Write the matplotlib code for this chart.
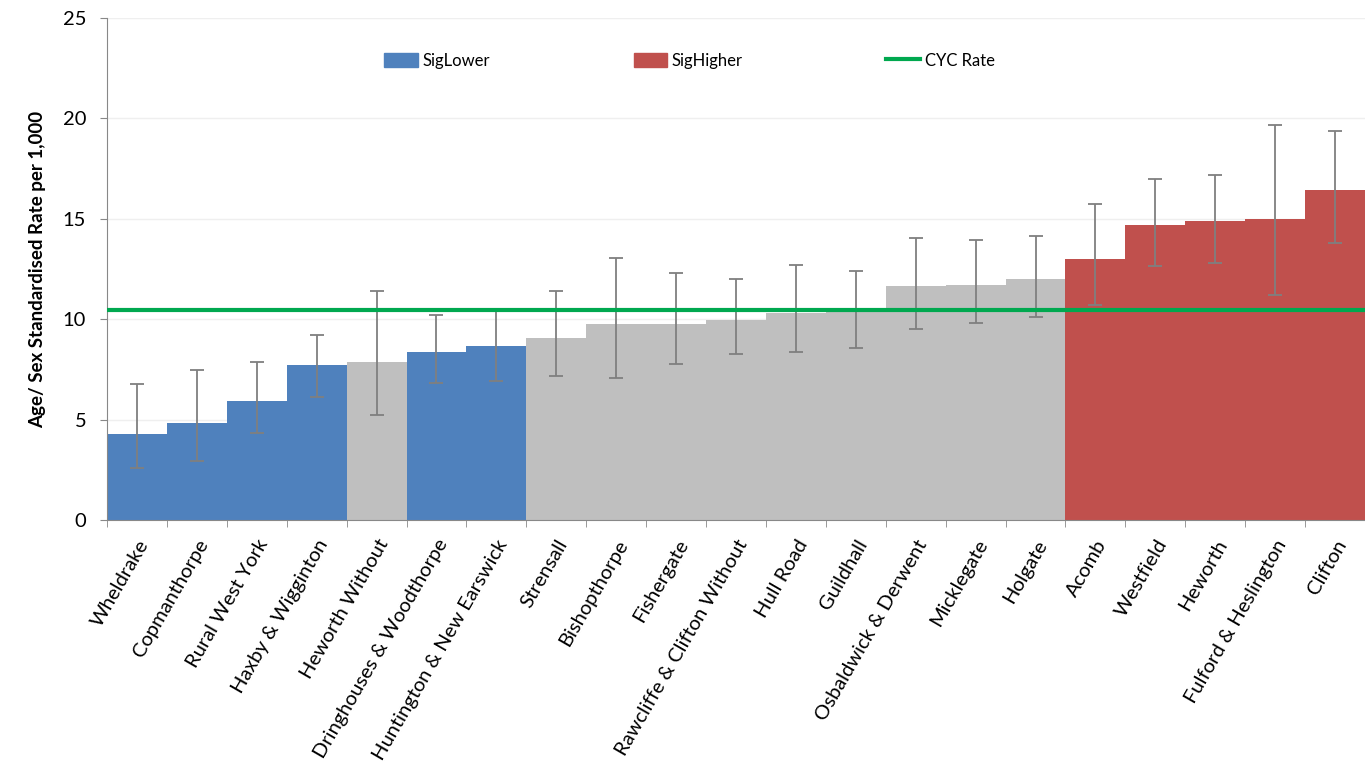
import numpy as np
import matplotlib.pyplot as plt
from matplotlib.patches import Patch
from matplotlib.lines import Line2D

plt.rcParams['font.family'] = ['Lato', 'DejaVu Sans']

wards = ['Wheldrake', 'Copmanthorpe', 'Rural West York', 'Haxby & Wigginton',
         'Heworth Without', 'Dringhouses & Woodthorpe', 'Huntington & New Earswick',
         'Strensall', 'Bishopthorpe', 'Fishergate', 'Rawcliffe & Clifton Without',
         'Hull Road', 'Guildhall', 'Osbaldwick & Derwent', 'Micklegate', 'Holgate',
         'Acomb', 'Westfield', 'Heworth', 'Fulford & Heslington', 'Clifton']
rate = [4.27, 4.85, 5.94, 7.70, 7.88, 8.38, 8.67, 9.08, 9.76, 9.78, 9.96,
        10.33, 10.35, 11.64, 11.72, 12.02, 13.01, 14.67, 14.87, 14.99, 16.45]
ci_low = [2.60, 2.95, 4.35, 6.14, 5.21, 6.84, 6.94, 7.17, 7.07, 7.75, 8.25,
          8.35, 8.55, 9.53, 9.81, 10.11, 10.71, 12.67, 12.78, 11.20, 13.81]
ci_high = [6.77, 7.47, 7.85, 9.23, 11.39, 10.21, 10.45, 11.40, 13.06, 12.29, 11.99,
           12.68, 12.38, 14.06, 13.94, 14.16, 15.72, 17.00, 17.20, 19.66, 19.36]
# L = significantly lower, S = similar, H = significantly higher
signif = ['L', 'L', 'L', 'L', 'S', 'L', 'L', 'S', 'S', 'S', 'S',
          'S', 'S', 'S', 'S', 'S', 'H', 'H', 'H', 'H', 'H']
cyc_rate = 10.45

colours = {'L': '#4F81BD', 'S': '#BFBFBF', 'H': '#C0504D'}

x = np.arange(len(wards))
rate = np.array(rate)
err = [rate - np.array(ci_low), np.array(ci_high) - rate]

fig = plt.figure(figsize=(13.65, 7.83), dpi=100)
ax = fig.add_axes([0.0784, 0.336, 0.9216, 0.641])

ax.bar(x, rate, width=1.0, color=[colours[s] for s in signif], zorder=2)
ax.errorbar(x, rate, yerr=err, fmt='none', ecolor='#7F7F7F', elinewidth=1.3,
            capsize=5, capthick=1.3, zorder=3)
ax.axhline(cyc_rate, color='#00A84F', lw=3, zorder=4)

ax.set_xlim(-0.5, len(wards) - 0.5)
ax.set_ylim(0, 25)
ax.set_yticks(range(0, 26, 5))
ax.yaxis.grid(True, color='#EFEFEF', lw=1, zorder=0)
ax.set_axisbelow(True)

ax.set_xticks(x)
ax.set_xticklabels(wards, rotation=60, ha='right', rotation_mode='anchor', fontsize=14.5)
ax.tick_params(axis='x', length=0, pad=12)
ax.set_xticks(np.arange(-0.5, len(wards)), minor=True)
ax.tick_params(axis='x', which='minor', length=5, color='#888888')
ax.tick_params(axis='y', length=5, color='#888888', labelsize=14.5, pad=10)

for side in ['top', 'right']:
    ax.spines[side].set_visible(False)
ax.spines['left'].set_color('#888888')
ax.spines['bottom'].set_color('#888888')

ax.set_ylabel('Age/ Sex Standardised Rate per 1,000', fontsize=13.5, fontweight='bold', labelpad=12)

handles = [Patch(color=colours['L'], label='SigLower'),
           Patch(color=colours['H'], label='SigHigher'),
           Line2D([0], [0], color='#00A84F', lw=3, label='CYC Rate')]
ax.legend(handles=handles, ncol=3, loc='center', bbox_to_anchor=(0.463, 0.915),
          frameon=False, fontsize=12, columnspacing=8.6, handlelength=2.0,
          handleheight=0.9, handletextpad=0.3)

fig.savefig('out.png', dpi=100)
